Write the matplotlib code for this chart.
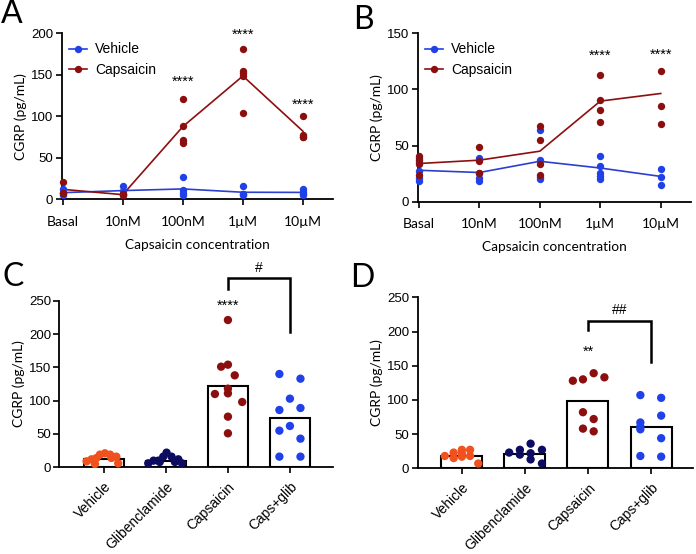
import matplotlib
matplotlib.use('Agg')
import matplotlib.pyplot as plt
import matplotlib.transforms as mtrans
import numpy as np

# ---------------- data ----------------
conc = ['Basal', '10nM', '100nM', '1\u00b5M', '10\u00b5M']

# panel A
a_veh_pts = [[12, 8, 5], [16, 10, 5], [27, 11, 7, 5], [16, 6, 6, 5], [13, 9, 6, 5]]
a_cap_pts = [[21, 8, 7], [6, 5, 6], [121, 88, 71, 68], [181, 155, 152, 149, 104], [100, 78, 75, 75]]
a_veh_mean = [8, 10.5, 12.5, 8.5, 8.3]
a_cap_mean = [12, 5.6, 87.6, 148.6, 82]
a_stars = [None, None, 141, 198, 114]

# panel B
b_veh_pts = [[39, 35, 27, 21, 18], [39, 21, 18, 26], [64, 37, 22, 20], [41, 32, 26, 23, 20], [29, 22, 15]]
b_cap_pts = [[41, 37, 34, 24], [49, 36, 26], [67, 55, 34, 24], [113, 91, 82, 71], [116, 85, 69]]
b_veh_mean = [28, 26, 36, 30, 22.5]
b_cap_mean = [34, 37, 45, 89.6, 96.4]
b_stars = [None, None, None, 130, 131]

groups = ['Vehicle', 'Glibenclamide', 'Capsaicin', 'Caps+glib']

# panel C
c_bar = [12, 10, 122, 73.5]
c_vals = [
    [9, 12, 14, 19, 21, 19, 14, 16, 6, 5],
    [6, 10, 10, 16, 22, 16, 8, 12, 6, 8],
    [221, 151, 154, 138, 118, 111, 110, 98, 76, 51],
    [140, 133, 103, 86, 89, 55, 62, 43, 16, 16],
]
c_offs = [
    [-0.28, -0.2, -0.12, -0.065, 0.016, 0.1, 0.12, 0.2, 0.23, -0.145],
    [-0.285, -0.2, -0.124, -0.043, 0.01, 0.09, 0.145, 0.2, 0.26, -0.1],
    [0, -0.11, 0, 0.11, 0, 0, -0.21, 0.23, 0, 0],
    [-0.17, 0.17, 0, -0.17, 0.17, -0.17, 0, 0.17, -0.17, 0.17],
]

# panel D
d_bar = [18, 21, 98.4, 60.8]
d_vals = [
    [18, 23, 27, 27, 15, 17, 18, 7, 22],
    [23, 27, 20, 36, 22, 13, 27, 7],
    [128, 130, 139, 133, 82, 72, 58, 54],
    [107, 103, 77, 67, 61, 57, 44, 18, 17],
]
d_offs = [
    [-0.27, -0.13, 0, 0.13, -0.13, 0, 0.13, 0.26, 0],
    [-0.25, -0.08, -0.08, 0.09, 0.09, 0.09, 0.27, 0.27],
    [-0.24, -0.08, 0.09, 0.26, -0.08, 0.09, -0.08, 0.09],
    [-0.17, 0.16, 0.16, -0.17, -0.17, -0.17, 0.16, -0.17, 0.16],
]

# ---------------- style ----------------
BLUE = '#2040e8'
BLUE_LINE = '#2b3fd0'
RED = '#8c0f10'
ORANGE = '#f0521f'
NAVY = '#0c0c60'
grp_colors = [ORANGE, NAVY, RED, BLUE]

NUM_FONT = 'Liberation Sans'
LBL_FONT = 'Lato'

fig = plt.figure(figsize=(6.96, 5.54), dpi=100)
W, H = 696, 554


def add_ax(left, top, right, bottom):
    return fig.add_axes([left / W, 1 - bottom / H, (right - left) / W, (bottom - top) / H])


def style(ax, xpad):
    for s in ['top', 'right']:
        ax.spines[s].set_visible(False)
    for s in ['left', 'bottom']:
        ax.spines[s].set_linewidth(1.3)
    ax.tick_params(direction='out', length=4, width=1.2, pad=2)
    ax.tick_params(axis='x', pad=xpad)
    for lab in ax.get_yticklabels():
        lab.set_fontfamily(NUM_FONT)
        lab.set_fontsize(9.5)


def line_panel(ax, veh_pts, cap_pts, veh_mean, cap_mean, stars, ymax, step):
    x = np.arange(len(conc))
    for i in range(len(conc)):
        ax.plot([x[i]] * len(veh_pts[i]), veh_pts[i], 'o', color=BLUE, ms=5.3, mec='none', clip_on=False, zorder=3)
        ax.plot([x[i]] * len(cap_pts[i]), cap_pts[i], 'o', color=RED, ms=5.3, mec='none', clip_on=False, zorder=3)
    ax.plot(x, veh_mean, color=BLUE_LINE, lw=1.2, clip_on=False, zorder=2)
    ax.plot(x, cap_mean, color=RED, lw=1.2, clip_on=False, zorder=2)
    for i, s in enumerate(stars):
        if s is not None:
            ax.text(x[i], s, '****', ha='center', va='center', fontsize=10.5, family=NUM_FONT)
    ax.set_xlim(-0.02, 4.5)
    ax.set_ylim(0, ymax)
    ax.set_yticks(np.arange(0, ymax + 1, step))
    ax.set_xticks(x)
    ax.set_xticklabels(conc, family=LBL_FONT, fontsize=10)
    ax.set_xlabel('Capsaicin concentration', family=LBL_FONT, fontsize=9.8, labelpad=8)
    ax.set_ylabel('CGRP (pg/mL)', family=LBL_FONT, fontsize=10, labelpad=3)
    h1, = ax.plot([], [], '-o', color=BLUE, ms=5.3, mec='none', lw=1.2)
    h2, = ax.plot([], [], '-o', color=RED, ms=5.3, mec='none', lw=1.2)
    ax.legend([h1, h2], ['Vehicle', 'Capsaicin'], loc='upper left', bbox_to_anchor=(-0.02, 1.02),
              frameon=False, handlelength=1.3, handletextpad=0.6, labelspacing=0.45,
              prop={'family': NUM_FONT, 'size': 10})
    style(ax, 8)


def bar_panel(ax, bars, vals, offs, xlim):
    x = np.arange(len(groups))
    ax.bar(x, bars, width=0.65, color='white', edgecolor='black', lw=1.5, zorder=1)
    for i in range(len(groups)):
        ax.scatter(x[i] + np.array(offs[i]), vals[i], s=36, color=grp_colors[i], edgecolors='none',
                   clip_on=False, zorder=3)
    ax.set_xlim(*xlim)
    ax.set_ylim(0, 250)
    ax.set_yticks(np.arange(0, 251, 50))
    ax.set_xticks(x)
    ax.set_xticklabels(groups, rotation=45, ha='right', rotation_mode='anchor',
                       family=NUM_FONT, fontsize=10)
    shift = mtrans.ScaledTranslation(5 / 72, 0, fig.dpi_scale_trans)
    for lab in ax.get_xticklabels():
        lab.set_transform(lab.get_transform() + shift)
    ax.set_ylabel('CGRP (pg/mL)', family=LBL_FONT, fontsize=10, labelpad=3)
    style(ax, 5)


def bracket(ax, top, left_bot, right_bot, label):
    ax.plot([2, 2, 3, 3], [left_bot, top, top, right_bot], color='black', lw=1.8,
            clip_on=False, solid_joinstyle='miter')
    ax.text(2.5, top + 15, label, ha='center', va='center', fontsize=10, family=NUM_FONT)


axA = add_ax(61.5, 33.3, 333, 199.3)
line_panel(axA, a_veh_pts, a_cap_pts, a_veh_mean, a_cap_mean, a_stars, 200, 50)

axB = add_ax(417.7, 33.3, 691, 201.7)
line_panel(axB, b_veh_pts, b_cap_pts, b_veh_mean, b_cap_mean, b_stars, 150, 50)

axC = add_ax(59.3, 300.7, 332.7, 467.3)
bar_panel(axC, c_bar, c_vals, c_offs, (-0.72, 3.69))
bracket(axC, 284, 268, 203, '#')
axC.text(2, 242, '****', ha='center', va='center', fontsize=10.5, family=NUM_FONT)

axD = add_ax(417.7, 297.3, 692.7, 468.3)
bar_panel(axD, d_bar, d_vals, d_offs, (-0.70, 3.66))
bracket(axD, 216, 202, 156, '##')
axD.text(2, 170, '**', ha='center', va='center', fontsize=10.5, family=NUM_FONT)

for lab, (px, py) in zip('ABCD', [(12, 14), (363, 20), (13, 277), (362, 278)]):
    fig.text(px / W, 1 - py / H, lab, ha='center', va='center', fontsize=23, family=LBL_FONT)

fig.savefig('out.png', dpi=100)
